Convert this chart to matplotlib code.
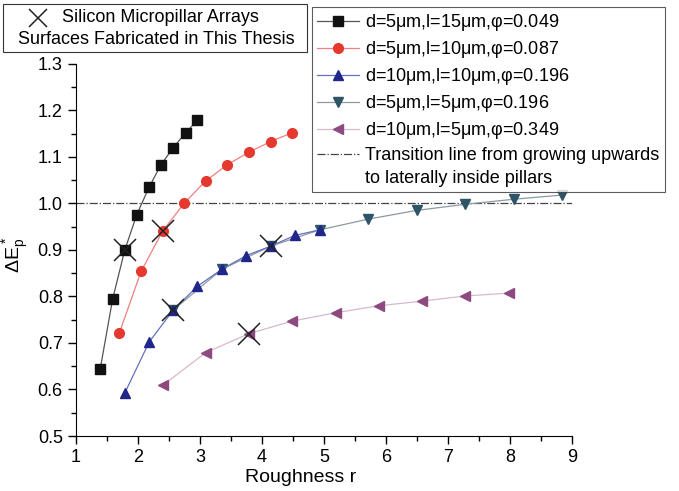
import matplotlib
matplotlib.use('Agg')
import matplotlib.pyplot as plt
from matplotlib.lines import Line2D
from matplotlib.patches import Rectangle
from matplotlib.ticker import MultipleLocator

plt.rcParams['font.family'] = ['Liberation Sans', 'DejaVu Sans']
plt.rcParams['mathtext.fontset'] = 'custom'
plt.rcParams['mathtext.rm'] = 'Liberation Sans'
plt.rcParams['mathtext.it'] = 'Liberation Sans'

# roughness values per series
r_a = [1.39, 1.59, 1.785, 1.98, 2.18, 2.37, 2.57, 2.77, 2.96]
r_b = [1.70, 2.05, 2.40, 2.75, 3.09, 3.44, 3.79, 4.14, 4.49]
r_c = [1.785, 2.18, 2.57, 2.96, 3.36, 3.75, 4.14, 4.53, 4.93]
r_d = [2.57, 3.36, 4.14, 4.93, 5.71, 6.50, 7.28, 8.07, 8.85]
r_e = [2.40, 3.09, 3.79, 4.49, 5.19, 5.89, 6.59, 7.28, 7.98]

# dE_p* values
e_a = [0.644, 0.794, 0.899, 0.976, 1.035, 1.083, 1.120, 1.152, 1.179]
e_b = [0.722, 0.854, 0.941, 1.001, 1.048, 1.083, 1.110, 1.133, 1.152]
e_c = [0.592, 0.702, 0.771, 0.822, 0.859, 0.888, 0.908, 0.931, 0.943]
e_d = [0.771, 0.859, 0.908, 0.943, 0.966, 0.985, 0.998, 1.009, 1.018]
e_e = [0.609, 0.679, 0.720, 0.747, 0.765, 0.780, 0.790, 0.801, 0.807]

labels = ['d=5$\\mu$m,l=15$\\mu$m,$\\varphi$=0.049',
          'd=5$\\mu$m,l=10$\\mu$m,$\\varphi$=0.087',
          'd=10$\\mu$m,l=10$\\mu$m,$\\varphi$=0.196',
          'd=5$\\mu$m,l=5$\\mu$m,$\\varphi$=0.196',
          'd=10$\\mu$m,l=5$\\mu$m,$\\varphi$=0.349']

# fabricated surfaces (X marks)
fab_r = [1.785, 2.40, 2.57, 4.14, 3.79]
fab_e = [0.899, 0.941, 0.771, 0.908, 0.720]

transition_r = [1, 9]
transition_e = [1.0, 1.0]

fig = plt.figure(figsize=(6.79, 4.91), dpi=100)
ax = fig.add_axes([0.112, 0.112, 0.730, 0.758])

ax.plot(transition_r, transition_e, linestyle='-.', color='#444444', lw=0.9, zorder=1)

ax.plot(r_a, e_a, '-s', color='#555555', mfc='#111111', mec='#111111', ms=6.5, lw=0.9, label=labels[0])
ax.plot(r_b, e_b, '-o', color='#f08080', mfc='#e5392f', mec='#e5392f', ms=7, lw=0.9, label=labels[1])
ax.plot(r_d, e_d, '-v', color='#8a9aa4', mfc='#2e5468', mec='#2e5468', ms=7.5, lw=0.9, label=labels[3])
ax.plot(r_c, e_c, '-^', color='#6670c0', mfc='#20268a', mec='#20268a', ms=7.5, lw=0.9, label=labels[2])
ax.plot(r_e, e_e, '-<', color='#d8b8cc', mfc='#8e4a80', mec='#8e4a80', ms=7.5, lw=0.9, label=labels[4])

ax.plot(fab_r, fab_e, 'x', color='#222222', ms=16, mew=1.1, zorder=5)

ax.set_xlim(1, 9)
ax.set_ylim(0.5, 1.3)
ax.xaxis.set_major_locator(MultipleLocator(1))
ax.xaxis.set_minor_locator(MultipleLocator(0.5))
ax.yaxis.set_major_locator(MultipleLocator(0.1))
ax.yaxis.set_minor_locator(MultipleLocator(0.05))
ax.spines['top'].set_visible(False)
ax.spines['right'].set_visible(False)
ax.tick_params(which='major', direction='out', length=6, width=1, labelsize=13)
ax.tick_params(which='minor', direction='out', length=3.5, width=1)
ax.set_xlabel('Roughness r', fontsize=14)
ax.xaxis.set_label_coords(0.454, -0.088)
ax.set_ylabel('$\\Delta E_p^*$', fontsize=14)
ax.yaxis.set_label_coords(-0.09, 0.487)

# legend of series
h = ax.get_legend_handles_labels()
order = [0, 1, 3, 2, 4]
handles = [h[0][i] for i in order]
labs = [h[1][i] for i in order]
handles.append(Line2D([], [], linestyle='-.', color='#444444', lw=0.9))
labs.append('Transition line from growing upwards')
handles.append(Line2D([], [], linestyle='none'))
labs.append('to laterally inside pillars')
leg = fig.legend(handles, labs, loc='upper left', bbox_to_anchor=(0.459, 0.986),
                 fontsize=13, frameon=True, fancybox=False, edgecolor='#333333',
                 handlelength=2.3, handletextpad=0.35, labelspacing=0.33,
                 borderpad=0.3, borderaxespad=0)
leg.get_frame().set_linewidth(0.8)

# legend for fabricated surfaces
fig.patches.append(Rectangle((3 / 679, 1 - 52 / 491), 304 / 679, 48 / 491,
                             transform=fig.transFigure, fill=False,
                             edgecolor='#333333', lw=0.8))
fig.add_artist(Line2D([38 / 679], [1 - 18 / 491], marker='x', color='#222222',
                      ms=13, mew=1.1, transform=fig.transFigure))
fig.text(62 / 679, 1 - 18 / 491, 'Silicon Micropillar Arrays', fontsize=13,
         va='center', ha='left')
fig.text(156 / 679, 1 - 40 / 491, 'Surfaces Fabricated in This Thesis', fontsize=13,
         va='center', ha='center')

fig.savefig('out.png', dpi=100)
